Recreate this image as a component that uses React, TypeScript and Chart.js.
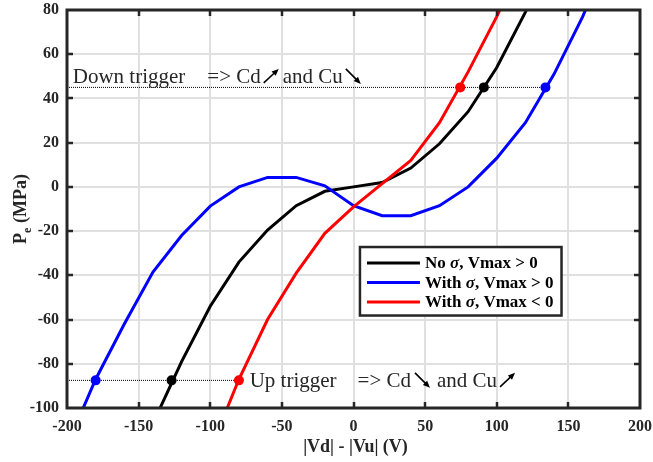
import React, { useEffect, useRef } from "react";
import { Chart, registerables } from "chart.js";

Chart.register(...registerables);

const SERIF = '"Liberation Serif", "Times New Roman", serif';
const INK = "#262626";

// Axis ranges and tick steps
const xMin = -200;
const xMax = 200;
const xStep = 50;
const yMin = -100;
const yMax = 80;
const yStep = 20;

// Series labels
const seriesLabels = ["No σ, Vmax > 0", "With σ, Vmax > 0", "With σ, Vmax < 0"];
const seriesColors = ["#000000", "#0000ff", "#ff0000"];

// No sigma, Vmax > 0
const vBlack = [-140, -120, -100, -80, -60, -40, -20, 0, 20, 40, 60, 80, 100, 120, 140];
const pBlack = [-107, -79, -54, -34, -19.5, -8.5, -2, 0, 2, 8.5, 19.5, 34, 54, 79, 107];

// With sigma, Vmax > 0
const vBlue = [-200, -180, -160, -140, -120, -100, -80, -60, -40, -20, 0, 20, 40, 60, 80, 100, 120, 140, 160, 180];
const pBlue = [-117, -87, -62, -38.5, -22, -8.7, 0, 4.3, 4.3, 0.5, -8.5, -13, -13, -8.5, 0, 13, 29, 51, 77, 108];

// With sigma, Vmax < 0
const vRed = [-100, -80, -60, -40, -20, 0, 20, 40, 60, 80, 100, 120];
const pRed = [-119, -87, -60, -39, -21, -9, 1.5, 12, 29, 52, 77, 105];

// Trigger levels (MPa)
const downTrigger = 45;
const upTrigger = -87.5;

// Trigger crossings: [up-trigger V, down-trigger V]
const crossBlack = [-127, 91];
const crossBlue = [-180, 134];
const crossRed = [-80, 74.5];

const toPts = (xs: number[], ys: number[]) => xs.map((x, i) => ({ x, y: ys[i] }));

function drawArrow(ctx: CanvasRenderingContext2D, x1: number, y1: number, x2: number, y2: number) {
  const ang = Math.atan2(y2 - y1, x2 - x1);
  const head = 7;
  const half = 3;
  ctx.save();
  ctx.strokeStyle = "#000";
  ctx.fillStyle = "#000";
  ctx.lineWidth = 1.6;
  ctx.beginPath();
  ctx.moveTo(x1, y1);
  ctx.lineTo(x2 - Math.cos(ang) * head * 0.8, y2 - Math.sin(ang) * head * 0.8);
  ctx.stroke();
  ctx.beginPath();
  ctx.moveTo(x2, y2);
  ctx.lineTo(
    x2 - Math.cos(ang) * head - Math.sin(ang) * half,
    y2 - Math.sin(ang) * head + Math.cos(ang) * half
  );
  ctx.lineTo(
    x2 - Math.cos(ang) * head + Math.sin(ang) * half,
    y2 - Math.sin(ang) * head - Math.cos(ang) * half
  );
  ctx.closePath();
  ctx.fill();
  ctx.restore();
}

type NotePart = { text?: string; gap?: number; arrow?: "up" | "down" };

function drawNote(ctx: CanvasRenderingContext2D, x: number, base: number, parts: NotePart[]) {
  ctx.save();
  ctx.font = `21px ${SERIF}`;
  ctx.fillStyle = INK;
  ctx.textBaseline = "alphabetic";
  ctx.textAlign = "left";
  let cx = x;
  for (const p of parts) {
    if (p.gap) cx += p.gap;
    if (p.text) {
      ctx.fillText(p.text, cx, base);
      cx += ctx.measureText(p.text).width;
    }
    if (p.arrow === "up") {
      drawArrow(ctx, cx, base, cx + 15, base - 14);
      cx += 15;
    } else if (p.arrow === "down") {
      drawArrow(ctx, cx, base - 14, cx + 15, base + 1);
      cx += 15;
    }
  }
  ctx.restore();
}

const framePlugin = {
  id: "frame",
  afterDraw(chart: any) {
    const ctx: CanvasRenderingContext2D = chart.ctx;
    const { left, right, top, bottom } = chart.chartArea;
    const xs = chart.scales.x;
    const ys = chart.scales.y;

    // Trigger notes
    drawNote(ctx, xs.getPixelForValue(-196), ys.getPixelForValue(downTrigger) - 4.5, [
      { text: "Down trigger" },
      { gap: 22, text: "=> Cd" },
      { gap: 3, arrow: "up" },
      { gap: 4, text: "and Cu" },
      { gap: 3, arrow: "down" },
    ]);
    drawNote(ctx, xs.getPixelForValue(-72.5), ys.getPixelForValue(upTrigger) + 6.5, [
      { text: "Up trigger" },
      { gap: 21, text: "=> Cd" },
      { gap: 4, arrow: "down" },
      { gap: 7, text: "and Cu" },
      { gap: 3, arrow: "up" },
    ]);

    // Frame and inward ticks on all four sides
    ctx.save();
    ctx.strokeStyle = INK;
    ctx.lineWidth = 2.5;
    ctx.beginPath();
    for (let v = xMin + xStep; v < xMax; v += xStep) {
      const px = Math.round(xs.getPixelForValue(v));
      ctx.moveTo(px, bottom);
      ctx.lineTo(px, bottom - 6);
      ctx.moveTo(px, top);
      ctx.lineTo(px, top + 6);
    }
    for (let v = yMin + yStep; v < yMax; v += yStep) {
      const py = Math.round(ys.getPixelForValue(v));
      ctx.moveTo(left, py);
      ctx.lineTo(left + 6, py);
      ctx.moveTo(right, py);
      ctx.lineTo(right - 6, py);
    }
    ctx.stroke();
    ctx.lineWidth = 3;
    ctx.strokeRect(left, top, right - left, bottom - top);
    ctx.restore();

    // Axis titles
    ctx.save();
    ctx.fillStyle = INK;
    ctx.font = `bold 18px ${SERIF}`;
    ctx.textAlign = "center";
    ctx.textBaseline = "middle";
    ctx.fillText("|Vd| - |Vu| (V)", (left + right) / 2 + 2, 447);

    ctx.translate(21, (top + bottom) / 2);
    ctx.rotate(-Math.PI / 2);
    ctx.textBaseline = "middle";
    ctx.textAlign = "left";
    const pW = ctx.measureText("P").width;
    ctx.font = `bold 12px ${SERIF}`;
    const eW = ctx.measureText("e").width;
    ctx.font = `bold 18px ${SERIF}`;
    const restW = ctx.measureText(" (MPa)").width;
    const total = pW + eW + restW;
    let tx = -total / 2;
    ctx.fillText("P", tx, 0);
    tx += pW;
    ctx.font = `bold 12px ${SERIF}`;
    ctx.fillText("e", tx, 7);
    tx += eW;
    ctx.font = `bold 18px ${SERIF}`;
    ctx.fillText(" (MPa)", tx, 0);
    ctx.restore();

    // Legend box
    const lx = xs.getPixelForValue(4.5);
    const ly = ys.getPixelForValue(-27.2);
    const rowH = 19.5;
    const font = `bold 17px ${SERIF}`;
    const fontIt = `italic bold 17px ${SERIF}`;
    ctx.save();
    const widths: number[] = [];
    for (let i = 0; i < 3; i++) {
      const [a, b] = chart.data.datasets[i].label.split("σ");
      ctx.font = font;
      let w = ctx.measureText(a).width + ctx.measureText(b).width;
      ctx.font = fontIt;
      w += ctx.measureText("σ").width;
      widths.push(w);
    }
    const boxW = 65 + Math.max(...widths) + 8;
    const boxH = rowH * 3 + 10;
    ctx.fillStyle = "#fff";
    ctx.fillRect(lx, ly, boxW, boxH);
    ctx.strokeStyle = INK;
    ctx.lineWidth = 2.5;
    ctx.strokeRect(lx, ly, boxW, boxH);
    ctx.textBaseline = "middle";
    ctx.textAlign = "left";
    for (let i = 0; i < 3; i++) {
      const ds = chart.data.datasets[i];
      const ry = ly + 16 + i * rowH;
      ctx.strokeStyle = ds.borderColor;
      ctx.lineWidth = 3;
      ctx.beginPath();
      ctx.moveTo(lx + 7, ry);
      ctx.lineTo(lx + 60, ry);
      ctx.stroke();
      const [a, b] = ds.label.split("σ");
      let tx2 = lx + 65;
      ctx.fillStyle = "#000";
      ctx.font = font;
      ctx.fillText(a, tx2, ry + 1);
      tx2 += ctx.measureText(a).width;
      ctx.font = fontIt;
      ctx.fillText("σ", tx2, ry + 1);
      tx2 += ctx.measureText("σ").width;
      ctx.font = font;
      ctx.fillText(b, tx2, ry + 1);
    }
    ctx.restore();
  },
};

export default function App() {
  const ref = useRef<HTMLCanvasElement>(null);

  useEffect(() => {
    if (!ref.current) return;
    const lineDs = (label: string, color: string, xs: number[], ys: number[], order: number) => ({
      label,
      data: toPts(xs, ys),
      showLine: true,
      borderColor: color,
      backgroundColor: color,
      borderWidth: 3,
      pointRadius: 0,
      tension: 0,
      order,
    });
    const markDs = (color: string, xs: number[]) => ({
      label: "",
      data: [
        { x: xs[0], y: upTrigger },
        { x: xs[1], y: downTrigger },
      ],
      showLine: false,
      pointRadius: 5,
      pointBorderWidth: 0,
      backgroundColor: color,
      borderColor: color,
      order: 0,
    });
    const trigDs = (x0: number, x1: number, y: number) => ({
      label: "",
      data: [
        { x: x0, y },
        { x: x1, y },
      ],
      showLine: true,
      borderColor: "#000",
      borderWidth: 1,
      borderDash: [1, 1],
      pointRadius: 0,
      order: 5,
    });

    const chart = new Chart(ref.current, {
      type: "scatter",
      data: {
        datasets: [
          lineDs(seriesLabels[0], seriesColors[0], vBlack, pBlack, 3),
          lineDs(seriesLabels[1], seriesColors[1], vBlue, pBlue, 2),
          lineDs(seriesLabels[2], seriesColors[2], vRed, pRed, 1),
          trigDs(xMin, crossBlue[1], downTrigger),
          trigDs(xMin, crossRed[0], upTrigger),
          markDs(seriesColors[0], crossBlack),
          markDs(seriesColors[1], crossBlue),
          markDs(seriesColors[2], crossRed),
        ] as any,
      },
      options: {
        responsive: false,
        animation: false,
        devicePixelRatio: 1,
        layout: { padding: { left: 0, right: 13, top: 10, bottom: 0 } },
        plugins: { legend: { display: false }, tooltip: { enabled: false } },
        scales: {
          x: {
            type: "linear",
            min: xMin,
            max: xMax,
            border: { display: false },
            grid: { color: "#e0e0e0", lineWidth: 2, drawTicks: false },
            ticks: {
              stepSize: xStep,
              padding: 9,
              color: INK,
              font: { family: SERIF, size: 16, weight: "bold" },
            },
            afterFit: (s: any) => {
              s.height = 54;
              s.paddingLeft = 0;
              s.paddingRight = 0;
            },
          },
          y: {
            type: "linear",
            min: yMin,
            max: yMax,
            border: { display: false },
            grid: { color: "#e0e0e0", lineWidth: 2, drawTicks: false },
            ticks: {
              stepSize: yStep,
              padding: 8,
              color: INK,
              font: { family: SERIF, size: 16, weight: "bold" },
            },
            afterFit: (s: any) => {
              s.width = 67;
              s.paddingTop = 0;
              s.paddingBottom = 0;
            },
          },
        },
      } as any,
      plugins: [framePlugin],
    });
    return () => chart.destroy();
  }, []);

  return (
    <div style={{ position: "absolute", left: 0, top: 0, width: 653, height: 462, background: "#fff" }}>
      <canvas ref={ref} width={653} height={462} style={{ display: "block" }} />
    </div>
  );
}
